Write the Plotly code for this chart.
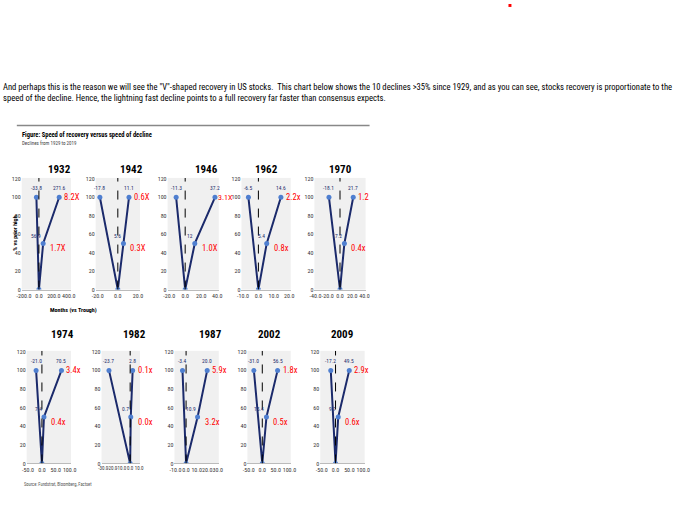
import plotly.graph_objects as go

W, H = 680, 506

years = ["1932", "1942", "1946", "1962", "1970", "1974", "1982", "1987", "2002", "2009"]
decline_months = [-33.8, -17.8, -11.3, -6.5, -18.1, -21.0, -23.7, -3.4, -31.0, -17.2]
half_months = [56.9, 5.6, 12.0, 5.4, 7.2, 7.4, 0.7, 10.9, 15.4, 9.7]
full_months = [271.6, 11.1, 37.2, 14.6, 21.7, 70.5, 2.8, 20.0, 56.5, 49.5]
half_labels = ["56.9", "5.6", "12", "5.4", "7.2", "7.4", "0.7", "10.9", "15.4", "9.7"]
half_mult = ["1.7X", "0.3X", "1.0X", "0.8x", "0.4x", "0.4x", "0.0x", "3.2x", "0.5x", "0.6x"]
full_mult = ["8.2X", "0.6X", "3.1X", "2.2x", "1.2", "3.4x", "0.1x", "5.9x", "1.8x", "2.9x"]
levels = [100, 0, 50, 100]
x_ranges = [(-230, 430), (-22, 22), (-22, 42), (-11, 21), (-42, 42),
            (-55, 105), (-32, 11), (-11, 31), (-55, 105), (-55, 105)]
x_ticks = [[-200, 0, 200, 400], [-20, 0, 20], [-20, 0, 20, 40], [-10, 0, 10, 20],
           [-40, -20, 0, 20, 40], [-50, 0, 50, 100], [-30, -20, -10, 0, 10],
           [-10, 0, 10, 20, 30], [-50, 0, 50, 100], [-50, 0, 50, 100]]
x_ticktext = [["-200.0", "0.0", "200.0", "400.0"], ["-20.0", "0.0", "20.0"],
              ["-20.0", "0.0", "20.0", "40.0"], ["-10.0", "0.0", "10.0", "20.0"],
              ["-40.0", "-20.0", "0.0", "20.0", "40.0"], ["-50.0", "0.0", "50.0", "100.0"],
              ["-30.0", "-20.0", "-10.0", "0.0", "10.0"], ["-10.0", "0.0", "10.0", "20.0", "30.0"],
              ["-50.0", "0.0", "50.0", "100.0"], ["-50.0", "0.0", "50.0", "100.0"]]

# pixel boxes of each panel plot area (left, right)
lefts = [17, 92, 165, 240, 314, 22, 98, 172, 246, 320]
rights = [67, 137, 217, 290, 366, 67, 137, 217, 290, 365]
rows = [(177, 290), (352, 466)]

NAVY = "#1b2a6b"
DOT = "#4f7fd0"
FONT = "Liberation Sans Narrow, Arial Narrow, Roboto Condensed, Liberation Sans, sans-serif"

fig = go.Figure()
layout = dict()
annotations = []
shapes = []
for i, yr in enumerate(years):
    n = i + 1
    sfx = "" if n == 1 else str(n)
    top, bot = rows[i // 5]
    xs = [decline_months[i], 0, half_months[i], full_months[i]]
    fig.add_trace(go.Scatter(x=xs, y=levels, mode="lines+markers",
                             line=dict(color=NAVY, width=2),
                             marker=dict(color=DOT, size=5),
                             xaxis="x" + sfx, yaxis="y" + sfx, showlegend=False,
                             hoverinfo="skip"))
    tick_size = 5 if i == 6 else 6
    layout["xaxis" + sfx] = dict(domain=[lefts[i] / W, rights[i] / W], range=x_ranges[i],
                                 tickvals=x_ticks[i], ticktext=x_ticktext[i], anchor="y" + sfx,
                                 showgrid=False, zeroline=False, showline=True, tickangle=0,
                                 linecolor="#bbbbbb", ticklen=0,
                                 tickfont=dict(size=tick_size, family=FONT, color="#333"))
    layout["yaxis" + sfx] = dict(domain=[1 - bot / H, 1 - top / H], range=[0, 121],
                                 tickvals=[0, 20, 40, 60, 80, 100, 120], anchor="x" + sfx,
                                 showgrid=False, zeroline=False, ticklen=0,
                                 tickfont=dict(size=6, family=FONT, color="#333"))
    xr, yr_ = "x" + sfx, "y" + sfx
    shapes.append(dict(type="line", xref=xr, yref=yr_, x0=0, x1=0, y0=0, y1=121,
                       line=dict(color="black", width=1, dash="dash")))
    small = dict(size=5.5, family=FONT, color=NAVY)
    annotations += [
        dict(x=decline_months[i], y=110, xref=xr, yref=yr_, text="%.1f" % decline_months[i],
             showarrow=False, font=small),
        dict(x=full_months[i], y=110, xref=xr, yref=yr_, text="%.1f" % full_months[i],
             showarrow=False, font=small),
        dict(x=half_months[i], y=58, xref=xr, yref=yr_, text=half_labels[i],
             showarrow=False, font=small, xanchor="right"),
        dict(x=full_months[i], y=100, xref=xr, yref=yr_, text=full_mult[i], showarrow=False,
             xanchor="left", xshift=1 if i == 2 else 3,
             font=dict(size=8 if i == 2 else 8.5, family=FONT, color="red")),
        dict(x=half_months[i], y=45, xref=xr, yref=yr_, text=half_mult[i], showarrow=False,
             xanchor="left", xshift=5, font=dict(size=8.5, family=FONT, color="red")),
        dict(x=(lefts[i] + rights[i]) / 2 / W, y=1 - (top - 17) / H, xref="paper", yref="paper",
             text="<b>" + yr + "</b>", showarrow=False, font=dict(size=11, family=FONT, color="black")),
    ]

head = ("And perhaps this is the reason we will see the \"V\"-shaped recovery in US stocks.  This chart below shows "
        "the 10 declines >35% since 1929, and as you can see, stocks recovery is proportionate to the<br>"
        "speed of the decline. Hence, the lightning fast decline points to a full recovery far faster than consensus expects.")
annotations += [
    dict(x=-4 / W, y=1 - 78 / H, xref="paper", yref="paper", text=head, showarrow=False, align="left",
         xanchor="left", yanchor="top", font=dict(size=8.6, family=FONT, color="black")),
    dict(x=15 / W, y=1 - 128 / H, xref="paper", yref="paper", text="<b>Figure: Speed of recovery versus speed of decline</b>",
         showarrow=False, xanchor="left", yanchor="top", font=dict(size=6.5, family=FONT, color="black")),
    dict(x=15 / W, y=1 - 137 / H, xref="paper", yref="paper", text="Declines from 1929 to 2019",
         showarrow=False, xanchor="left", yanchor="top", font=dict(size=5, family=FONT, color="#444")),
    dict(x=4 / W, y=1 - 233 / H, xref="paper", yref="paper", text="<b>% vs prior high</b>", textangle=-90,
         showarrow=False, font=dict(size=6, family=FONT, color="black")),
    dict(x=44 / W, y=1 - 311 / H, xref="paper", yref="paper", text="<b>Months (vs Trough)</b>",
         showarrow=False, font=dict(size=6, family=FONT, color="black")),
    dict(x=17 / W, y=1 - 492 / H, xref="paper", yref="paper", text="Source: Fundstrat, Bloomberg, Factset",
         showarrow=False, xanchor="left", font=dict(size=4.5, family=FONT, color="#555")),
]
shapes.append(dict(type="line", xref="paper", yref="paper", x0=12 / W, x1=370 / W,
                   y0=1 - 124 / H, y1=1 - 124 / H, line=dict(color="#888", width=1.5)))
shapes.append(dict(type="rect", xref="paper", yref="paper", x0=511 / W, x1=514 / W,
                   y0=1 - 4 / H, y1=1 - 1 / H, fillcolor="red", line=dict(width=0)))

fig.update_layout(width=W, height=H, margin=dict(l=0, r=0, t=0, b=0),
                  paper_bgcolor="white", plot_bgcolor="#f0f0f0",
                  annotations=annotations, shapes=shapes, **layout)
fig.write_html("out.html", config={"displayModeBar": False},
               post_script="document.body.style.margin='0';")
